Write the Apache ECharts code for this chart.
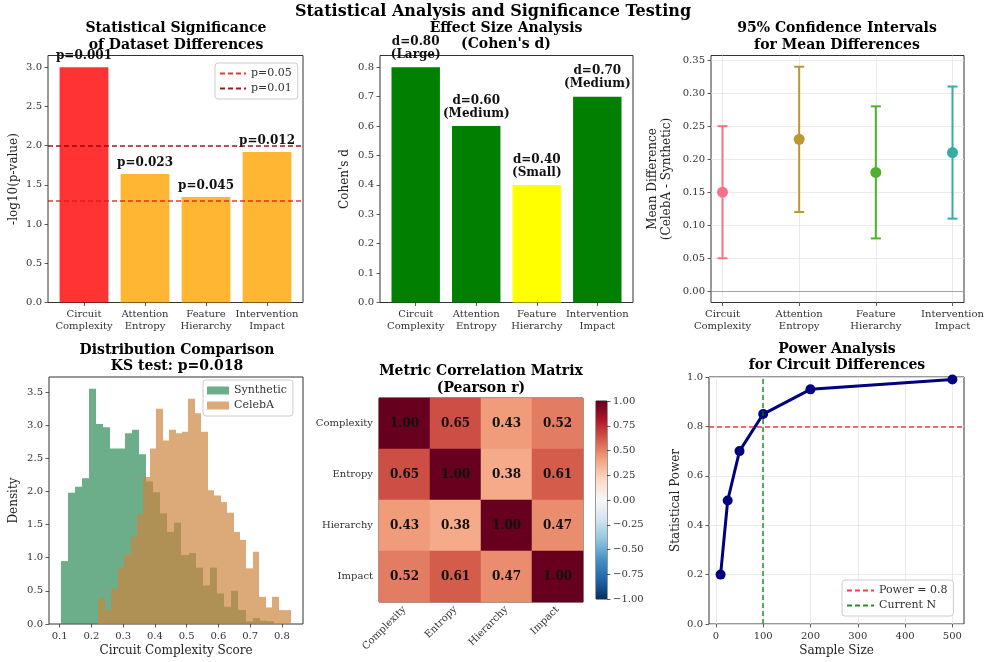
<!DOCTYPE html>
<html>
<head>
<meta charset="utf-8">
<script src="https://cdn.jsdelivr.net/npm/echarts@6/dist/echarts.min.js"></script>
<style>
  html, body { margin: 0; padding: 0; background: #ffffff; }
  #chart { width: 986px; height: 662px; }
</style>
</head>
<body>
<div id="chart"></div>
<script>
// ---------------- data ----------------
const metrics = ['Circuit\nComplexity', 'Attention\nEntropy', 'Feature\nHierarchy', 'Intervention\nImpact'];
const metricIndex = [0, 1, 2, 3];

const pValues = [0.001, 0.023, 0.045, 0.012];
const sigLevels = [0.05, 0.01];

const cohensD = [0.80, 0.60, 0.40, 0.70];

const meanDiff = [0.15, 0.23, 0.18, 0.21];
const ciLower = [0.05, 0.12, 0.08, 0.11];
const ciUpper = [0.25, 0.34, 0.28, 0.31];

// histogram densities (30 equal-width bins between each sample's min and max)
const syntheticRange = [0.103, 0.775];
const syntheticDensity = [0.95, 1.98, 2.07, 2.20, 3.55, 3.02, 2.97, 2.65, 2.65, 2.88,
                          2.93, 2.56, 2.15, 1.99, 1.67, 1.39, 1.53, 1.04, 1.07, 0.85,
                          0.58, 0.85, 0.46, 0.26, 0.50, 0.21, 0.04, 0.09, 0.05, 0.04];
const celebaRange = [0.222, 0.830];
const celebaDensity = [0.39, 0.21, 0.53, 0.85, 1.05, 1.32, 1.66, 2.22, 2.65, 3.25,
                       2.77, 2.93, 2.88, 2.90, 3.40, 3.18, 2.90, 2.02, 1.94, 1.84,
                       1.68, 1.39, 1.27, 0.84, 1.09, 0.41, 0.25, 0.41, 0.21, 0.21];
const ksP = 0.018;

const corrLabels = ['Complexity', 'Entropy', 'Hierarchy', 'Impact'];
const corrMatrix = [
  [1.00, 0.65, 0.43, 0.52],
  [0.65, 1.00, 0.38, 0.61],
  [0.43, 0.38, 1.00, 0.47],
  [0.52, 0.61, 0.47, 1.00]
];

const sampleSizes = [10, 25, 50, 100, 200, 500];
const powerValues = [0.20, 0.50, 0.70, 0.85, 0.95, 0.99];
const powerTarget = 0.8;
const currentN = 100;

// tick values
const ticksLogP = [0, 0.5, 1.0, 1.5, 2.0, 2.5, 3.0];
const ticksD = [0, 0.1, 0.2, 0.3, 0.4, 0.5, 0.6, 0.7, 0.8];
const ticksMeanDiff = [0, 0.05, 0.10, 0.15, 0.20, 0.25, 0.30, 0.35];
const ticksScore = [0.1, 0.2, 0.3, 0.4, 0.5, 0.6, 0.7, 0.8];
const ticksDensity = [0, 0.5, 1.0, 1.5, 2.0, 2.5, 3.0, 3.5];
const ticksCorr = [-1, -0.75, -0.5, -0.25, 0, 0.25, 0.5, 0.75, 1];
const ticksN = [0, 100, 200, 300, 400, 500];
const ticksPower = [0, 0.2, 0.4, 0.6, 0.8, 1.0];

// ---------------- helpers ----------------
const FONT = 'DejaVu Serif';
const INK = '#333333';
const rdbuR = ['#053061', '#2166ac', '#4393c3', '#92c5de', '#d1e5f0', '#f7f7f7',
               '#fddbc7', '#f4a582', '#d6604d', '#b2182b', '#67001f'];
const ciColors = ['#f77189', '#bb9832', '#50b131', '#36ada4'];

// data limits with a 5% margin on each side
function padded(lo, hi) {
  const m = (hi - lo) * 0.05;
  return [lo - m, hi + m];
}
const fmt = d => v => v.toFixed(d);
const minusFmt = d => v => (v < -1e-9 ? '\u2212' : '') + Math.abs(v).toFixed(d);
const catFmt = v => metrics[Math.round(v)];

function valAxis(o) {
  return {
    type: 'value', gridIndex: o.grid, min: o.min, max: o.max,
    position: o.position, show: o.show !== false,
    name: o.name || '', nameLocation: 'middle', nameGap: o.nameGap || 0,
    nameTextStyle: { fontFamily: FONT, fontSize: 12, color: '#222', lineHeight: 14 },
    axisLine: { show: false, onZero: false },
    axisTick: { show: true, length: 3.5, customValues: o.ticks, lineStyle: { color: INK, width: 0.8 } },
    axisLabel: { show: true, customValues: o.ticks, formatter: o.fmt, margin: 6,
                 fontFamily: FONT, fontSize: 10, color: INK, lineHeight: 12 },
    splitLine: { show: !!o.gridLines, lineStyle: { color: '#e6e6e6', width: 0.8 } }
  };
}

function hbars(range, density) {
  const w = (range[1] - range[0]) / density.length;
  return density.map((d, i) => [range[0] + i * w, range[0] + (i + 1) * w, d]);
}

function refLine(name, color, axisKey, value, xi) {
  const ls = { color: color, width: 1.5, type: [5, 3] };
  return {
    type: 'line', name: name, xAxisIndex: xi, yAxisIndex: xi, data: [],
    symbol: 'none', color: color, lineStyle: ls,
    markLine: { silent: true, symbol: ['none', 'none'], label: { show: false },
                lineStyle: ls, data: [{ [axisKey]: value }] }
  };
}

function legendBox(left, top, names, icon, w, h, lineIcons) {
  const lg = {
    left: left, top: top, orient: 'vertical', data: names,
    itemWidth: w, itemHeight: h, itemGap: 4, selectedMode: false,
    padding: [5, 6, 5, 4], backgroundColor: 'rgba(255,255,255,0.85)',
    borderColor: '#cccccc', borderWidth: 1, borderRadius: 3,
    textStyle: { fontFamily: FONT, fontSize: 11, color: INK }
  };
  if (icon) lg.icon = icon;
  if (lineIcons) lg.itemStyle = { opacity: 0 };
  return lg;
}

const effectLabel = d => d >= 0.8 ? 'Large' : (d >= 0.5 ? 'Medium' : 'Small');

// ---------------- layout ----------------
const gridBase = { show: true, borderColor: '#333', borderWidth: 1, backgroundColor: 'transparent',
                   containLabel: false, outerBoundsMode: 'none' };
const grids = [
  { left: 48, top: 55.5, width: 255, height: 247 },   // p-values
  { left: 380, top: 55.5, width: 253, height: 247 },  // effect size
  { left: 711, top: 55.5, width: 253, height: 247 },  // confidence intervals
  { left: 49, top: 377, width: 254, height: 247 },    // histogram
  { left: 379, top: 398, width: 204, height: 204 },   // correlation
  { left: 596, top: 401, width: 11, height: 198 },    // colour bar
  { left: 709, top: 377, width: 255, height: 247 }    // power
].map(g => Object.assign({}, gridBase, g));

const logP = pValues.map(p => -Math.log10(p));
const barX = padded(-0.4, metrics.length - 1 + 0.4);
const ciX = padded(0, metrics.length - 1);
const ciY = padded(0, Math.max(...ciUpper));
const histX = padded(syntheticRange[0], celebaRange[1]);
const histMax = Math.max(...syntheticDensity, ...celebaDensity) * 1.05;
const nX = padded(sampleSizes[0], sampleSizes[sampleSizes.length - 1]);

const xAxes = [
  valAxis({ grid: 0, min: barX[0], max: barX[1], ticks: metricIndex, fmt: catFmt }),
  valAxis({ grid: 1, min: barX[0], max: barX[1], ticks: metricIndex, fmt: catFmt }),
  valAxis({ grid: 2, min: ciX[0], max: ciX[1], ticks: metricIndex, fmt: catFmt, gridLines: true }),
  valAxis({ grid: 3, min: histX[0], max: histX[1], ticks: ticksScore, fmt: fmt(1),
            name: 'Circuit Complexity Score', nameGap: 20 }),
  {
    type: 'category', gridIndex: 4, data: corrLabels,
    axisLine: { show: false, onZero: false },
    axisTick: { alignWithLabel: true, length: 3.5, lineStyle: { color: INK, width: 0.8 } },
    axisLabel: { rotate: 45, margin: 6, fontFamily: FONT, fontSize: 10, color: INK },
    splitLine: { show: false }
  },
  { type: 'value', gridIndex: 5, min: 0, max: 1, show: false },
  valAxis({ grid: 6, min: nX[0], max: nX[1], ticks: ticksN, fmt: fmt(0), gridLines: true,
            name: 'Sample Size', nameGap: 20 })
];

const yAxes = [
  valAxis({ grid: 0, min: 0, max: Math.max(...logP) * 1.05, ticks: ticksLogP, fmt: fmt(1),
            name: '-log10(p-value)', nameGap: 27 }),
  valAxis({ grid: 1, min: 0, max: Math.max(...cohensD) * 1.05, ticks: ticksD, fmt: fmt(1),
            name: "Cohen's d", nameGap: 28 }),
  valAxis({ grid: 2, min: ciY[0], max: ciY[1], ticks: ticksMeanDiff, fmt: fmt(2), gridLines: true,
            name: 'Mean Difference\n(CelebA - Synthetic)', nameGap: 37 }),
  valAxis({ grid: 3, min: 0, max: histMax, ticks: ticksDensity, fmt: fmt(1),
            name: 'Density', nameGap: 28 }),
  {
    type: 'category', gridIndex: 4, data: corrLabels, inverse: true,
    axisLine: { show: false, onZero: false },
    axisTick: { alignWithLabel: true, length: 3.5, lineStyle: { color: INK, width: 0.8 } },
    axisLabel: { margin: 6, fontFamily: FONT, fontSize: 10, color: INK },
    splitLine: { show: false }
  },
  valAxis({ grid: 5, min: -1, max: 1, ticks: ticksCorr, fmt: minusFmt(2), position: 'right' }),
  valAxis({ grid: 6, min: 0, max: 1, ticks: ticksPower, fmt: fmt(1), gridLines: true,
            name: 'Statistical Power', nameGap: 26 })
];

// ---------------- series ----------------
const series = [];

// panel 1: -log10(p) bars with p-value labels
series.push({
  type: 'custom', name: 'significance', xAxisIndex: 0, yAxisIndex: 0, z: 2,
  data: logP.map((h, i) => [i, h, pValues[i]]),
  renderItem: (params, api) => {
    const i = api.value(0), h = api.value(1), p = api.value(2);
    const tl = api.coord([i - 0.4, h]);
    const br = api.coord([i + 0.4, 0]);
    return {
      type: 'group', children: [
        { type: 'rect', shape: { x: tl[0], y: tl[1], width: br[0] - tl[0], height: br[1] - tl[1] },
          style: { fill: p < 0.01 ? 'rgba(255,0,0,0.8)' : 'rgba(255,165,0,0.8)' } },
        { type: 'text', z2: 10, style: { text: 'p=' + p.toFixed(3), x: (tl[0] + br[0]) / 2, y: tl[1] - 5,
          align: 'center', verticalAlign: 'bottom', font: 'bold 12px "DejaVu Serif"', fill: '#111' } }
      ]
    };
  }
});
series.push(refLine('p=0.05', 'rgba(230,20,20,0.85)', 'yAxis', -Math.log10(sigLevels[0]), 0));
series.push(refLine('p=0.01', 'rgba(150,0,0,0.9)', 'yAxis', -Math.log10(sigLevels[1]), 0));

// panel 2: Cohen's d bars
series.push({
  type: 'custom', name: 'effect', xAxisIndex: 1, yAxisIndex: 1,
  data: cohensD.map((d, i) => [i, d]),
  renderItem: (params, api) => {
    const i = api.value(0), d = api.value(1);
    const tl = api.coord([i - 0.4, d]);
    const br = api.coord([i + 0.4, 0]);
    return {
      type: 'group', children: [
        { type: 'rect', shape: { x: tl[0], y: tl[1], width: br[0] - tl[0], height: br[1] - tl[1] },
          style: { fill: d >= 0.5 ? '#007f00' : '#ffff00' } },
        { type: 'text', z2: 10, style: { text: 'd=' + d.toFixed(2) + '\n(' + effectLabel(d) + ')',
          x: (tl[0] + br[0]) / 2, y: tl[1] - 6, lineHeight: 13,
          align: 'center', verticalAlign: 'bottom', font: 'bold 12px "DejaVu Serif"', fill: '#111' } }
      ]
    };
  }
});

// panel 3: confidence intervals
series.push({
  type: 'custom', name: 'ci', xAxisIndex: 2, yAxisIndex: 2, z: 3,
  data: meanDiff.map((m, i) => [i, m, ciLower[i], ciUpper[i]]),
  renderItem: (params, api) => {
    const i = api.value(0);
    const pm = api.coord([i, api.value(1)]);
    const plo = api.coord([i, api.value(2)]);
    const phi = api.coord([i, api.value(3)]);
    const c = ciColors[i];
    const st = { stroke: c, lineWidth: 2 };
    return {
      type: 'group', children: [
        { type: 'line', shape: { x1: plo[0], y1: plo[1], x2: phi[0], y2: phi[1] }, style: st },
        { type: 'line', shape: { x1: plo[0] - 5, y1: plo[1], x2: plo[0] + 5, y2: plo[1] }, style: st },
        { type: 'line', shape: { x1: phi[0] - 5, y1: phi[1], x2: phi[0] + 5, y2: phi[1] }, style: st },
        { type: 'circle', shape: { cx: pm[0], cy: pm[1], r: 5.5 }, style: { fill: c } }
      ]
    };
  },
  markLine: { silent: true, symbol: ['none', 'none'], label: { show: false },
              lineStyle: { color: 'rgba(0,0,0,0.3)', width: 1.2, type: 'solid' },
              data: [{ yAxis: 0 }] }
});

// panel 4: overlaid histograms
function histSeries(name, range, density, color) {
  return {
    type: 'custom', name: name, xAxisIndex: 3, yAxisIndex: 3,
    itemStyle: { color: color },
    data: hbars(range, density),
    renderItem: (params, api) => {
      const tl = api.coord([api.value(0), api.value(2)]);
      const br = api.coord([api.value(1), 0]);
      const x0 = Math.round(tl[0]), x1 = Math.round(br[0]);
      return { type: 'rect', shape: { x: x0, y: tl[1], width: x1 - x0, height: br[1] - tl[1] },
               style: { fill: color } };
    }
  };
}
series.push(histSeries('Synthetic', syntheticRange, syntheticDensity, 'rgba(46,139,87,0.7)'));
series.push(histSeries('CelebA', celebaRange, celebaDensity, 'rgba(205,133,63,0.7)'));

// panel 5: correlation heatmap
const heatIndex = series.length;
series.push({
  type: 'heatmap', name: 'corr', xAxisIndex: 4, yAxisIndex: 4,
  data: corrMatrix.flatMap((row, r) => row.map((v, c) => [c, r, v])),
  itemStyle: { borderWidth: 0 },
  emphasis: { disabled: true },
  label: { show: true, formatter: p => p.value[2].toFixed(2), color: '#111',
           fontFamily: FONT, fontWeight: 'bold', fontSize: 12 }
});

// colour bar
series.push({
  type: 'custom', name: 'colorbar', xAxisIndex: 5, yAxisIndex: 5,
  data: [[0, -1, 1]],
  renderItem: (params, api) => {
    const tl = api.coord([0, api.value(2)]);
    const br = api.coord([1, api.value(1)]);
    const n = rdbuR.length;
    const stops = rdbuR.map((c, i) => ({ offset: 1 - i / (n - 1), color: c })).reverse();
    return { type: 'rect', shape: { x: tl[0], y: tl[1], width: br[0] - tl[0], height: br[1] - tl[1] },
             style: { fill: new echarts.graphic.LinearGradient(0, 0, 0, 1, stops) } };
  }
});

// panel 6: power curve
series.push({
  type: 'line', name: 'power', xAxisIndex: 6, yAxisIndex: 6, z: 4,
  data: sampleSizes.map((n, i) => [n, powerValues[i]]),
  color: '#000080', lineStyle: { color: '#000080', width: 3 },
  symbol: 'circle', symbolSize: 10, itemStyle: { color: '#000080' }
});
series.push(refLine('Power = 0.8', 'rgba(235,30,30,0.85)', 'yAxis', powerTarget, 6));
series.push(refLine('Current N', 'rgba(0,128,0,0.85)', 'xAxis', currentN, 6));

// ---------------- titles ----------------
const titleFont = 'bold 14px "DejaVu Serif"';
function title(x, y, text) {
  return { type: 'text', x: x, y: y, z: 100,
           style: { text: text, font: titleFont, lineHeight: 16.5, align: 'center', verticalAlign: 'middle', fill: '#000' } };
}

const option = {
  animation: false,
  textStyle: { fontFamily: FONT },
  grid: grids,
  xAxis: xAxes,
  yAxis: yAxes,
  visualMap: [{
    type: 'continuous', min: -1, max: 1, show: false, seriesIndex: heatIndex,
    inRange: { color: rdbuR }
  }],
  legend: [
    legendBox(215, 63, ['p=0.05', 'p=0.01'], null, 26, 10, true),
    legendBox(203, 380, ['Synthetic', 'CelebA'], 'rect', 22, 8, false),
    legendBox(842, 580, ['Power = 0.8', 'Current N'], null, 27, 10, true)
  ],
  series: series,
  graphic: [
    { type: 'text', x: 493, y: 12, z: 100,
      style: { text: 'Statistical Analysis and Significance Testing', font: 'bold 16px "DejaVu Serif"',
               align: 'center', verticalAlign: 'middle', fill: '#000' } },
    title(176, 37, 'Statistical Significance\nof Dataset Differences'),
    title(506, 36.5, "Effect Size Analysis\n(Cohen's d)"),
    title(837, 37, '95% Confidence Intervals\nfor Mean Differences'),
    title(177, 358.5, 'Distribution Comparison\nKS test: p=' + ksP.toFixed(3)),
    title(481, 380, 'Metric Correlation Matrix\n(Pearson r)'),
    title(837, 357.5, 'Power Analysis\nfor Circuit Differences')
  ]
};

const chart = echarts.init(document.getElementById('chart'), null, { renderer: 'canvas' });
chart.setOption(option);
</script>
</body>
</html>
